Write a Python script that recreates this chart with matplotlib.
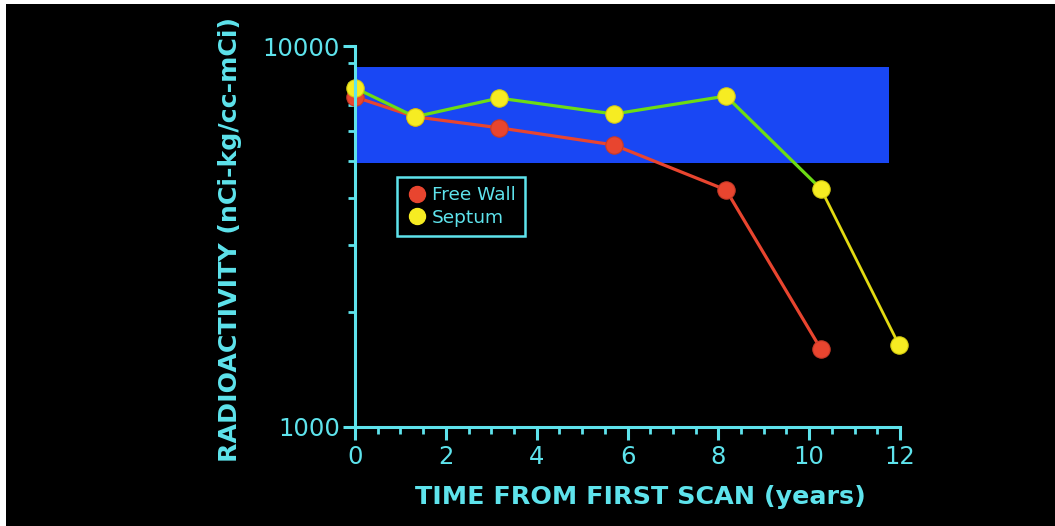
import matplotlib
matplotlib.use("Agg")
import matplotlib.pyplot as plt
from matplotlib.patches import Rectangle
from matplotlib.lines import Line2D
from matplotlib.ticker import FixedLocator, NullFormatter

# ---- data ----
free_wall_x = [0.0, 1.32, 3.17, 5.70, 8.17, 10.26]
free_wall_y = [7350, 6520, 6100, 5500, 4190, 1600]
septum_x = [0.0, 1.32, 3.17, 5.70, 8.17, 10.26, 11.98]
septum_y = [7760, 6520, 7300, 6630, 7390, 4215, 1640]
band_x = [0.0, 11.75]
band_y = [4930, 8810]
x_ticks = [0, 2, 4, 6, 8, 10, 12]
y_ticks = [1000, 10000]
y_tick_labels = ["1000", "10000"]

CYAN = "#5ee3ec"
RED = "#e8452f"
YELLOW = "#f6ec22"
GREEN = "#6ddc14"
YLINE = "#e3da12"
BLUE = "#1947f4"

W, H = 1055, 526
fig = plt.figure(figsize=(W / 100, H / 100), dpi=100, facecolor="white")
# black slide background (thin white margin at left/top)
fig.patches.append(Rectangle((6 / W, 0), 1 - 6 / W, 1 - 4 / H, transform=fig.transFigure,
                             facecolor="black", edgecolor="none", zorder=-10))

ax = fig.add_axes([355 / W, 1 - 427 / H, 545 / W, 381 / H])
ax.set_facecolor("black")
ax.patch.set_alpha(0)
ax.set_yscale("log")
ax.set_xlim(0, 12)
ax.set_ylim(1000, 10000)

# blue band
ax.fill_between(band_x, band_y[0], band_y[1], color=BLUE, lw=0, zorder=1)

# free wall
ax.plot(free_wall_x, free_wall_y, color=RED, lw=2.3, zorder=3, clip_on=False)
ax.plot(free_wall_x, free_wall_y, ls="none", marker="o", ms=12.5, mfc=RED, mec="#c83a28",
        mew=0.8, zorder=4, clip_on=False)
# septum: green line up to the 10-yr point, then yellow
ax.plot(septum_x[:-1], septum_y[:-1], color=GREEN, lw=2.3, zorder=5, clip_on=False)
ax.plot(septum_x[-2:], septum_y[-2:], color=YLINE, lw=2.0, zorder=5, clip_on=False)
ax.plot(septum_x, septum_y, ls="none", marker="o", ms=12.5, mfc=YELLOW, mec="#d8cf10",
        mew=0.8, zorder=6, clip_on=False)

# axes styling
for s in ["top", "right"]:
    ax.spines[s].set_visible(False)
for s in ["left", "bottom"]:
    ax.spines[s].set_color(CYAN)
    ax.spines[s].set_linewidth(2.2)
    ax.spines[s].set_zorder(7)

ax.set_xticks(x_ticks)
ax.set_xticklabels([str(t) for t in x_ticks])
ax.xaxis.set_minor_locator(FixedLocator([i * 0.5 for i in range(25)]))
ax.set_yticks(y_ticks)
ax.set_yticklabels(y_tick_labels)
ax.yaxis.set_minor_locator(FixedLocator([k * 10 ** e for e in (3,) for k in range(2, 10)]))
ax.yaxis.set_minor_formatter(NullFormatter())

ax.tick_params(axis="both", which="major", colors=CYAN, labelcolor=CYAN, labelsize=17.5,
               width=2.2, length=9, direction="out")
ax.tick_params(axis="both", which="minor", colors=CYAN, width=2.0, length=5, direction="out")
ax.tick_params(axis="x", which="major", pad=4)
ax.tick_params(axis="y", which="major", pad=2)

ax.set_xlabel("TIME FROM FIRST SCAN (years)", color=CYAN, fontsize=18.3, fontweight="bold")
ax.xaxis.set_label_coords((640 - 355) / 545, -(497 - 427) / 381)
ax.set_ylabel("RADIOACTIVITY (nCi-kg/cc-mCi)", color=CYAN, fontsize=18.2, fontweight="bold")
ax.yaxis.set_label_coords(-(355 - 230) / 545, (427 - 240) / 381)
ax.yaxis.label.set_va("center")
ax.xaxis.label.set_va("center")

# legend
handles = [Line2D([], [], ls="none", marker="o", ms=11.5, mfc=RED, mec=RED),
           Line2D([], [], ls="none", marker="o", ms=11.5, mfc=YELLOW, mec=YELLOW)]
leg = ax.legend(handles, ["Free Wall", "Septum"], loc="upper left",
                bbox_to_anchor=((397 - 355) / 545, (427 - 177) / 381),
                frameon=True, fancybox=False, facecolor="black", edgecolor=CYAN,
                fontsize=13.3, labelcolor=CYAN, handletextpad=0.2, handlelength=1.2,
                borderpad=0.5, labelspacing=0.25, borderaxespad=0)
leg.get_frame().set_linewidth(1.8)
leg.get_frame().set_alpha(1)
leg.set_zorder(10)

fig.savefig("out.png", dpi=100, facecolor="white")
